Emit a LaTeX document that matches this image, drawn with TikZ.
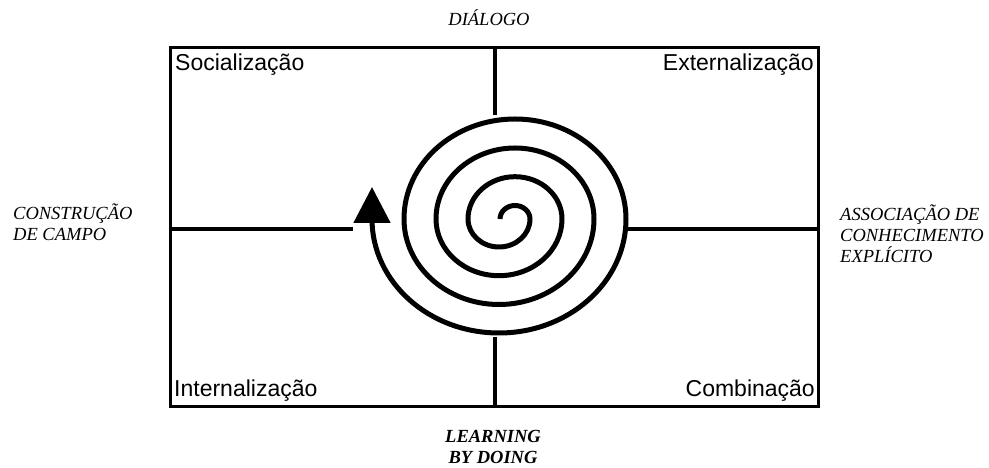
\documentclass[tikz,border=0pt]{standalone}
\usepackage{fontspec}
\setmainfont{Liberation Serif}
\newfontfamily\arialfont{Liberation Sans}
\usetikzlibrary{arrows.meta}

\begin{document}
\begin{tikzpicture}[x=1pt,y=1pt,
    quadlabel/.style={font=\arialfont\fontsize{23}{27}\selectfont, inner sep=0pt},
    sidelabel/.style={font=\fontsize{18.5}{21}\selectfont\itshape, inner sep=0pt}]
            \useasboundingbox (0,0) rectangle (989,468);

            % frame
            \draw[line width=3pt] (170,61) rectangle (818,420);

            % cross lines
            \draw[line width=4pt] (495,420) -- (495,353);
            \draw[line width=4pt] (495,131) -- (495,61);
            \draw[line width=4pt] (170,239) -- (353,239);
            \draw[line width=4pt] (628,239) -- (818,239);

            % spiral
            \draw[line width=5pt, -{Triangle[length=36pt,width=36pt]}]
                (500,249) arc[start angle=180, end angle=0, x radius=15pt, y radius=13.5pt]
                arc[start angle=0, end angle=-180, x radius=31pt, y radius=28pt]
                arc[start angle=180, end angle=0, x radius=47pt, y radius=42.3pt]
                arc[start angle=0, end angle=-180, x radius=63pt, y radius=56.7pt]
                arc[start angle=180, end angle=0, x radius=79pt, y radius=71pt]
                arc[start angle=0, end angle=-180, x radius=95pt, y radius=85.5pt]
                arc[start angle=180, end angle=0, x radius=111pt, y radius=100pt]
                arc[start angle=0, end angle=-180, x radius=127pt, y radius=114pt]
                -- (372,281);

            % quadrant names
            \node[quadlabel, anchor=base west] (soc) at (175,397) {Socialização};
            \node[quadlabel, anchor=base east] (ext) at (814,397) {Externalização};
            \node[quadlabel, anchor=base west] (int) at (174,71) {Internalização};
            \node[quadlabel, anchor=base east] (comb) at (815,71) {Combinação};

            % outer labels
            \node[sidelabel, anchor=base] (dialogo) at (489,442) {DIÁLOGO};
            \node[sidelabel, anchor=base west, align=left] (campo) at (13,227) {CONSTRUÇÃO\\DE CAMPO};
            \node[sidelabel, anchor=base west, align=left] (assoc) at (840,205) {ASSOCIAÇÃO DE\\CONHECIMENTO\\EXPLÍCITO};
            \node[sidelabel, font=\fontsize{18.5}{21}\selectfont\bfseries\itshape, anchor=base, align=center] (learn) at (493,4) {LEARNING\\BY DOING};
        \end{tikzpicture}
\end{document}
